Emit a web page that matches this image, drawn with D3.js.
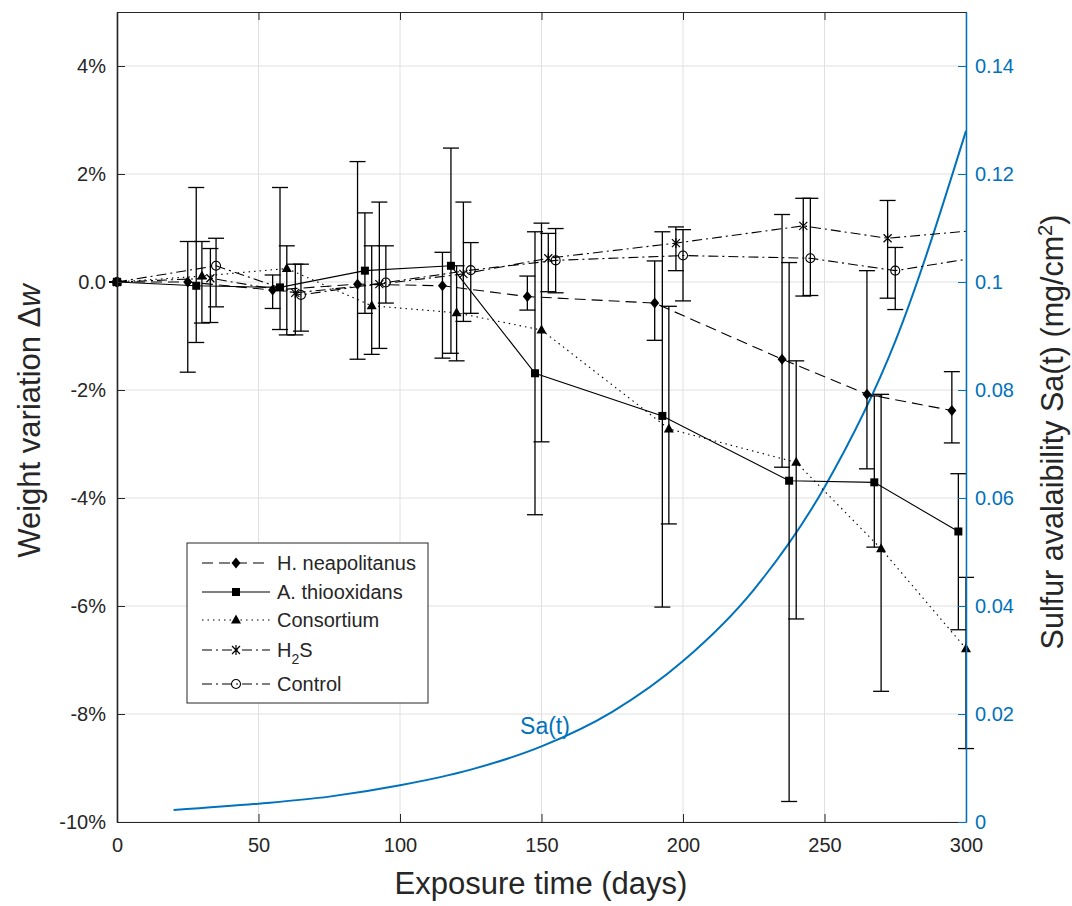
<!DOCTYPE html>
<html>
<head>
<meta charset="utf-8">
<script src="https://cdn.jsdelivr.net/npm/d3@7"></script>
<style>
  body { margin: 0; background: #fff; }
  svg { font-family: "Liberation Sans", Arial, Helvetica, sans-serif; }
</style>
</head>
<body>
<svg id="chart" width="1072" height="906"></svg>
<script>
// ---- data (weight variation in %, error bar ends in %) ----
var neaDays = [0, 25, 55, 85, 115, 145, 190, 235, 265, 295];
var neaVal  = [0, 0.0, -0.15, -0.04, -0.07, -0.27, -0.39, -1.43, -2.08, -2.38];
var neaHi   = [0, 0.75, 0.13, 2.23, 0.55, 0.11, 0.39, 1.25, 0.21, -1.66];
var neaLo   = [0, -1.67, -0.49, -1.43, -1.41, -0.52, -1.08, -3.43, -3.46, -2.98];

var thioDays = [0, 28, 57.6, 87.6, 118, 147.7, 192.7, 237.5, 267.6, 297.3];
var thioVal  = [0, -0.07, -0.1, 0.21, 0.3, -1.69, -2.48, -3.68, -3.71, -4.62];
var thioHi   = [0, 1.75, 1.75, 1.28, 2.48, 0.93, 0.93, 0.36, -2.11, -3.55];
var thioLo   = [0, -1.12, -0.88, -0.58, -1.32, -4.31, -6.02, -9.62, -4.91, -6.44];

var consDays = [0, 30, 60, 90, 120, 150, 195, 240, 270, 300];
var consVal  = [0, 0.11, 0.25, -0.44, -0.57, -0.89, -2.72, -3.34, -4.94, -6.79];
var consHi   = [0, 0.75, 0.67, 0.67, 0.3, 1.09, -0.45, -1.46, -2.08, -5.47];
var consLo   = [0, -0.76, -0.98, -1.34, -1.46, -2.96, -4.48, -6.24, -7.58, -8.64];

var h2sDays = [0, 33, 63, 92.7, 122.4, 152.4, 197.5, 242.5, 272.3, 300];
var h2sVal  = [0, 0.07, -0.2, -0.04, 0.15, 0.44, 0.72, 1.04, 0.81, 0.94];
var h2sHi   = [0, 0.62, 0.33, 1.48, 1.48, 0.9, 1.02, 1.55, 1.51, null];
var h2sLo   = [0, -0.75, -0.98, -1.23, -0.73, -0.18, 0.21, -0.26, -0.3, null];

var ctrlDays = [0, 35, 65, 95, 125, 155, 200, 245, 275, 300];
var ctrlVal  = [0, 0.3, -0.24, -0.01, 0.22, 0.4, 0.49, 0.44, 0.21, 0.42];
var ctrlHi   = [0, 0.81, 0.33, 0.67, 0.73, 0.99, 0.97, 1.55, 0.64, null];
var ctrlLo   = [0, -0.46, -0.91, -0.39, -0.58, -0.2, -0.35, -0.25, -0.51, null];

// sulfur availability curve (right axis, mg/cm2)
var saDays = [20, 50, 75, 100, 125, 150, 175, 200, 225, 250, 275, 300];
var saVal  = [0.0022, 0.0034, 0.0047, 0.0068, 0.0097, 0.0140, 0.0204, 0.0298, 0.0430, 0.0620, 0.0890, 0.128];

var xTicks = [0, 50, 100, 150, 200, 250, 300];
var leftTicks = [-10, -8, -6, -4, -2, 0, 2, 4];
var leftTickLabels = ["-10%", "-8%", "-6%", "-4%", "-2%", "0.0", "2%", "4%"];
var rightTicks = [0, 0.02, 0.04, 0.06, 0.08, 0.1, 0.12, 0.14];
var rightTickLabels = ["0", "0.02", "0.04", "0.06", "0.08", "0.1", "0.12", "0.14"];

var seriesNames = ["H. neapolitanus", "A. thiooxidans", "Consortium", "H2S", "Control"];

// ---- layout ----
var svg = d3.select("#chart");
var pL = 117, pR = 966, pT = 12, pB = 822;
var ink = "#262626", blue = "#0072BD";

var x = d3.scaleLinear().domain([0, 300]).range([pL, pR]);
var y = d3.scaleLinear().domain([-10, 5]).range([pB, pT]);
var yR = d3.scaleLinear().domain([0, 0.15]).range([pB, pT]);

svg.append("rect").attr("width", 1072).attr("height", 906).attr("fill", "#fff");

svg.append("defs").append("clipPath").attr("id", "plotclip")
  .append("rect").attr("x", pL).attr("y", pT)
  .attr("width", pR - pL).attr("height", pB - pT);

// grid
var grid = svg.append("g").attr("stroke", "#e0e0e0").attr("stroke-width", 1);
xTicks.forEach(function(t) {
  grid.append("line").attr("x1", x(t)).attr("x2", x(t)).attr("y1", pT).attr("y2", pB);
});
leftTicks.forEach(function(t) {
  grid.append("line").attr("x1", pL).attr("x2", pR).attr("y1", y(t)).attr("y2", y(t));
});

// Sa(t) curve
var saLine = d3.line()
  .x(function(d, i) { return x(saDays[i]); })
  .y(function(d) { return yR(d); })
  .curve(d3.curveMonotoneX);
svg.append("path").datum(saVal)
  .attr("clip-path", "url(#plotclip)")
  .attr("d", saLine)
  .attr("fill", "none").attr("stroke", blue).attr("stroke-width", 2);

svg.append("text").attr("x", 545).attr("y", 734)
  .attr("text-anchor", "middle").attr("fill", blue)
  .style("font-size", "23px").text("Sa(t)");

// series
function build(days, vals, hi, lo) {
  return days.map(function(d, i) { return {day: d, v: vals[i], hi: hi[i], lo: lo[i]}; });
}
var series = [
  {name: seriesNames[0], data: build(neaDays, neaVal, neaHi, neaLo), dash: "11,6", marker: "diamond"},
  {name: seriesNames[1], data: build(thioDays, thioVal, thioHi, thioLo), dash: null, marker: "square"},
  {name: seriesNames[2], data: build(consDays, consVal, consHi, consLo), dash: "1.5,4", marker: "triangle"},
  {name: seriesNames[3], data: build(h2sDays, h2sVal, h2sHi, h2sLo), dash: "10,4,2,4", marker: "star"},
  {name: seriesNames[4], data: build(ctrlDays, ctrlVal, ctrlHi, ctrlLo), dash: "10,4,2,4", marker: "circle"}
];

function drawMarker(g, type, cx, cy) {
  var m;
  if (type === "diamond") {
    m = g.append("path").attr("d", "M0,-5.5L4.5,0L0,5.5L-4.5,0Z").attr("fill", "#000");
  } else if (type === "square") {
    m = g.append("rect").attr("x", -4).attr("y", -4).attr("width", 8).attr("height", 8).attr("fill", "#000");
  } else if (type === "triangle") {
    m = g.append("path").attr("d", "M0,-5.5L5,3.5L-5,3.5Z").attr("fill", "#000");
  } else if (type === "star") {
    m = g.append("path").attr("d", "M-4,-4L4,4M-4,4L4,-4M0,-5L0,5")
      .attr("fill", "none").attr("stroke", "#000").attr("stroke-width", 1.2);
  } else {
    m = g.append("circle").attr("r", 4.5).attr("fill", "none")
      .attr("stroke", "#000").attr("stroke-width", 1.1);
  }
  m.attr("transform", "translate(" + cx + "," + cy + ")");
}

var line = d3.line()
  .x(function(d) { return x(d.day); })
  .y(function(d) { return y(d.v); });

series.forEach(function(s) {
  var g = svg.append("g");
  g.append("path").datum(s.data)
    .attr("clip-path", "url(#plotclip)")
    .attr("d", line)
    .attr("fill", "none").attr("stroke", "#000").attr("stroke-width", 1.1)
    .attr("stroke-dasharray", s.dash);

  var bars = s.data.filter(function(d) { return d.hi !== null; });
  bars.forEach(function(d) {
    var bx = x(d.day);
    g.append("line").attr("x1", bx).attr("x2", bx).attr("y1", y(d.hi)).attr("y2", y(d.lo))
      .attr("stroke", "#000").attr("stroke-width", 1.3);
    [d.hi, d.lo].forEach(function(e) {
      g.append("line").attr("x1", bx - 8).attr("x2", bx + 8).attr("y1", y(e)).attr("y2", y(e))
        .attr("stroke", "#000").attr("stroke-width", 1.3);
    });
    drawMarker(g, s.marker, bx, y(d.v));
  });
});

// axes
function styleAxis(g, color) {
  g.selectAll("path.domain").attr("stroke", color).attr("stroke-width", 1);
  g.selectAll(".tick line").attr("stroke", color);
  g.selectAll(".tick text").attr("fill", color).style("font-size", "20px")
    .style("font-family", "'Liberation Sans', Arial, Helvetica, sans-serif");
}

var gx = svg.append("g").attr("transform", "translate(0," + pB + ")")
  .call(d3.axisBottom(x).tickValues(xTicks).tickSizeInner(-8).tickSizeOuter(0).tickPadding(16));
styleAxis(gx, ink);

var gt = svg.append("g").attr("transform", "translate(0," + pT + ")")
  .call(d3.axisTop(x).tickValues(xTicks).tickSizeInner(-8).tickSizeOuter(0).tickFormat(""));
styleAxis(gt, ink);

var gl = svg.append("g").attr("transform", "translate(" + pL + ",0)")
  .call(d3.axisLeft(y).tickValues(leftTicks).tickSizeInner(-8).tickSizeOuter(0).tickPadding(11)
    .tickFormat(function(d, i) { return leftTickLabels[i]; }));
styleAxis(gl, ink);
gl.select("path.domain").attr("stroke-width", 1.6);

var gr = svg.append("g").attr("transform", "translate(" + pR + ",0)")
  .call(d3.axisRight(yR).tickValues(rightTicks).tickSizeInner(-8).tickSizeOuter(0).tickPadding(9)
    .tickFormat(function(d, i) { return rightTickLabels[i]; }));
styleAxis(gr, blue);
gr.select("path.domain").attr("stroke-width", 1.5);

// axis titles
svg.append("text").attr("x", 541).attr("y", 894).attr("text-anchor", "middle")
  .attr("fill", ink).style("font-size", "31px").text("Exposure time (days)");

var yl = svg.append("text").attr("transform", "translate(40,421) rotate(-90)")
  .attr("text-anchor", "middle").attr("fill", ink).style("font-size", "31px");
yl.append("tspan").text("Weight variation \u0394");
yl.append("tspan").style("font-style", "italic").text("w");

var yr = svg.append("text").attr("transform", "translate(1063,432) rotate(-90)")
  .attr("text-anchor", "middle").attr("fill", ink).style("font-size", "30.5px");
yr.append("tspan").text("Sulfur avalaibility Sa(t) (mg/cm");
yr.append("tspan").attr("dy", -11).style("font-size", "20px").text("2");
yr.append("tspan").attr("dy", 11).text(")");

// legend
var lg = svg.append("g");
lg.append("rect").attr("x", 187).attr("y", 543).attr("width", 241).attr("height", 160)
  .attr("fill", "#fff").attr("stroke", ink).attr("stroke-width", 1);
var rowY = [563, 592, 620, 650, 684];
series.forEach(function(s, i) {
  var cy = rowY[i];
  lg.append("line").attr("x1", 202).attr("x2", 270).attr("y1", cy).attr("y2", cy)
    .attr("stroke", "#000").attr("stroke-width", 1.1).attr("stroke-dasharray", s.dash);
  drawMarker(lg, s.marker, 236, cy);
  var t = lg.append("text").attr("x", 277).attr("y", cy + 7).attr("fill", ink)
    .style("font-size", "20px");
  if (s.name === "H2S") {
    t.append("tspan").text("H");
    t.append("tspan").attr("dy", 7).style("font-size", "14px").text("2");
    t.append("tspan").attr("dy", -7).text("S");
  } else {
    t.text(s.name);
  }
});
</script>
</body>
</html>
